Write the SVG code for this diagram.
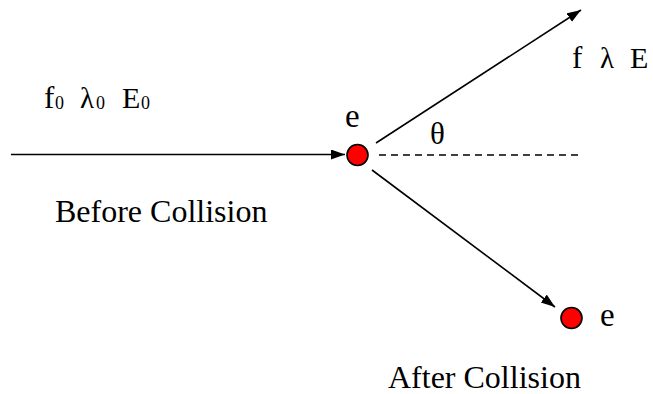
<svg xmlns="http://www.w3.org/2000/svg" width="653" height="394" viewBox="0 0 653 394">
<style>
.ln{stroke:#000;stroke-width:1.6;fill:none}
.dot{fill:#ff0000;stroke:#000;stroke-width:1.6}
</style>
<defs>
<marker id="ah" markerUnits="userSpaceOnUse" markerWidth="15" markerHeight="11" refX="14" refY="5" orient="auto">
<path d="M0,0 L14,5 L0,10 z" fill="#000"/>
</marker>
</defs>
<g id="connectors">
<line class="ln" x1="11" y1="154.5" x2="345" y2="154.5" marker-end="url(#ah)"/>
<line class="ln" x1="376" y1="143" x2="581" y2="10" marker-end="url(#ah)"/>
<line class="ln" x1="372" y1="170" x2="555" y2="307" marker-end="url(#ah)"/>
<line class="ln" x1="379" y1="155" x2="583" y2="155" stroke-dasharray="7,5"/>
</g>
<g id="electron-before">
<circle class="dot" cx="357.5" cy="155" r="10.5"/>
<text font-family="Liberation Serif" x="345" y="127" font-size="33">e</text>
</g>
<g id="electron-after">
<circle class="dot" cx="571.5" cy="318" r="10.5"/>
<text font-family="Liberation Serif" x="600" y="326" font-size="33">e</text>
</g>
<g id="incident-label">
<text font-family="Liberation Serif" x="44" y="108" font-size="31">f</text>
<text font-family="Liberation Serif" x="55" y="109" font-size="18">0</text>
<text font-family="Liberation Serif" x="80" y="108" font-size="29">&#955;</text>
<text font-family="Liberation Serif" x="96" y="109" font-size="18">0</text>
<text font-family="Liberation Serif" x="122" y="108" font-size="30">E</text>
<text font-family="Liberation Serif" x="141" y="109" font-size="18">0</text>
</g>
<g id="scattered-label">
<text font-family="Liberation Serif" x="572" y="68" font-size="31">f</text>
<text font-family="Liberation Serif" x="600" y="68" font-size="29">&#955;</text>
<text font-family="Liberation Serif" x="630" y="68" font-size="30">E</text>
</g>
<g id="angle-label">
<text font-family="Liberation Serif" x="430" y="144" font-size="31">&#952;</text>
</g>
<g id="captions">
<text font-family="Liberation Serif" x="55" y="222" font-size="32">Before Collision</text>
<text font-family="Liberation Serif" x="388" y="388" font-size="32">After Collision</text>
</g>
</svg>
